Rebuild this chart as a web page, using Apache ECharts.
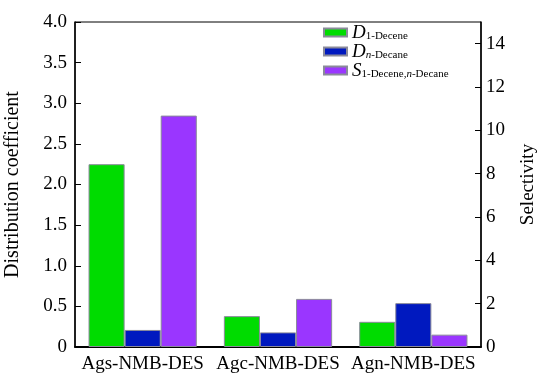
<!DOCTYPE html>
<html>
<head>
<meta charset="utf-8">
<script src="https://cdn.jsdelivr.net/npm/echarts@6/dist/echarts.min.js"></script>
<style>
  html, body { margin: 0; padding: 0; background: #fff; }
  #chart { width: 537px; height: 375px; }
</style>
</head>
<body>
<div id="chart"></div>
<script>
// Solvent systems on the category axis
const categories = ['Ags-NMB-DES', 'Agc-NMB-DES', 'Agn-NMB-DES'];
// Distribution coefficients (left axis)
const d1Decene = [2.25, 0.38, 0.31];
const dNDecane = [0.21, 0.18, 0.54];
// Selectivity (right axis)
const selectivity = [10.68, 2.22, 0.57];
// Tick labels
const leftTicks = ['0', '0.5', '1.0', '1.5', '2.0', '2.5', '3.0', '3.5', '4.0'];
const rightTicks = ['0', '2', '4', '6', '8', '10', '12', '14'];

const serif = '"Liberation Serif", "Times New Roman", serif';
const barBorder = { borderColor: '#8a8a9a', borderWidth: 1 };
const tickRich = { t: { fontFamily: serif, fontSize: 19, color: '#000' } };

const legendRich = {
  i: { fontFamily: serif, fontStyle: 'italic', fontSize: 19, color: '#000', lineHeight: 19 },
  s: { fontFamily: serif, fontSize: 11, color: '#000', lineHeight: 19, padding: [7, 0, 0, 0] },
  si: { fontFamily: serif, fontSize: 11, fontStyle: 'italic', color: '#000', lineHeight: 19, padding: [7, 0, 0, 0] }
};
const legendText = {
  'D1': '{i|D}{s|1-Decene}',
  'Dn': '{i|D}{si|n}{s|-Decane}',
  'S': '{i|S}{s|1-Decene,}{si|n}{s|-Decane}'
};

const chart = echarts.init(document.getElementById('chart'));
chart.setOption({
  animation: false,
  backgroundColor: '#fff',
  textStyle: { fontFamily: serif, color: '#000' },
  grid: {
    left: 75, right: 56, top: 22, bottom: 28,
    containLabel: false, outerBoundsMode: 'none',
    show: true, borderColor: '#000', borderWidth: 1
  },
  legend: {
    orient: 'vertical',
    left: 323, top: 23,
    padding: 0,
    itemWidth: 23, itemHeight: 8, itemGap: 0,
    icon: 'rect',
    data: ['D1', 'Dn', 'S'],
    formatter: n => legendText[n],
    textStyle: { rich: legendRich, fontFamily: serif, fontSize: 14, color: '#000' }
  },
  xAxis: {
    type: 'category',
    data: categories,
    axisLine: { lineStyle: { color: '#000', width: 2 } },
    axisTick: { show: false },
    axisLabel: { fontFamily: serif, fontSize: 19, color: '#000', margin: 8, interval: 0 }
  },
  yAxis: [
    {
      type: 'value', min: 0, max: 4, interval: 0.5,
      name: 'Distribution coefficient',
      nameLocation: 'middle', nameGap: 52, nameRotate: 90,
      nameTextStyle: { fontFamily: serif, fontSize: 20, color: '#000' },
      axisLine: { show: true, lineStyle: { color: '#000', width: 1.5 } },
      axisTick: { show: true, inside: true, length: 6, lineStyle: { color: '#000' } },
      axisLabel: {
        fontFamily: serif, fontSize: 19, color: '#000', margin: 8,
        rich: tickRich,
        formatter: (v, i) => '{t|' + leftTicks[i] + '}'
      },
      splitLine: { show: false }
    },
    {
      type: 'value', min: 0, max: 15, interval: 2,
      name: 'Selectivity',
      nameLocation: 'middle', nameGap: 38, nameRotate: 90,
      nameTextStyle: { fontFamily: serif, fontSize: 19, color: '#000' },
      axisLine: { show: true, lineStyle: { color: '#000', width: 1.5 } },
      axisTick: { show: true, inside: true, length: 6, lineStyle: { color: '#000' } },
      axisLabel: {
        fontFamily: serif, fontSize: 19, color: '#000', margin: 5,
        showMaxLabel: false,
        rich: tickRich,
        formatter: (v, i) => rightTicks[i] ? '{t|' + rightTicks[i] + '}' : ''
      },
      splitLine: { show: false }
    }
  ],
  series: [
    { name: 'D1', type: 'bar', yAxisIndex: 0, data: d1Decene, barGap: '0%', barCategoryGap: '20%',
      itemStyle: Object.assign({ color: '#00dc00' }, barBorder) },
    { name: 'Dn', type: 'bar', yAxisIndex: 0, data: dNDecane, barGap: '0%', barCategoryGap: '20%',
      itemStyle: Object.assign({ color: '#0019bf' }, barBorder) },
    { name: 'S', type: 'bar', yAxisIndex: 1, data: selectivity, barGap: '0%', barCategoryGap: '20%',
      itemStyle: Object.assign({ color: '#9a36ff' }, barBorder) }
  ]
});
</script>
</body>
</html>
